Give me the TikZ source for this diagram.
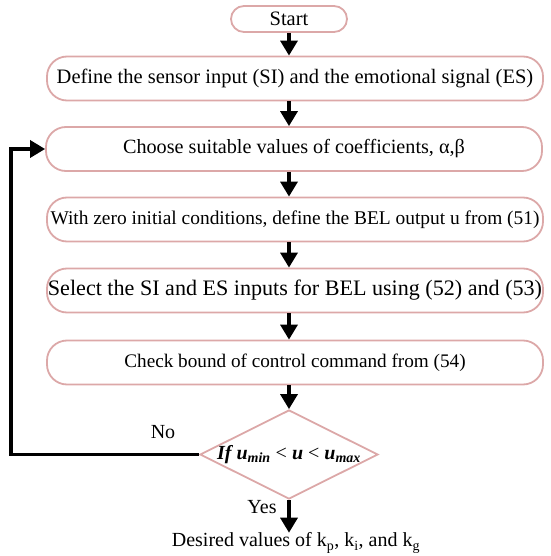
\documentclass[tikz,border=0pt]{standalone}
\usepackage{fontspec}
\setmainfont{Liberation Serif}
\usetikzlibrary{shapes.geometric,arrows.meta}
\definecolor{boxpink}{RGB}{220,168,168}
\newcommand{\fsz}[1]{\fontsize{#1}{#1}\selectfont}
\begin{document}
\begin{tikzpicture}[x=1pt,y=-1pt,
  proc/.style={draw=boxpink,line width=1.8pt,rounded corners=20pt,minimum width=496pt,minimum height=44pt,inner sep=0pt,font=\fsz{20}},
  flow/.style={line width=3.4pt,-{Triangle[width=17pt,length=15pt]}},
  lbl/.style={inner sep=0pt,font=\fsz{20}}]
\useasboundingbox (0,0) rectangle (550,556);
\node[proc,minimum width=116pt,minimum height=26pt,rounded corners=13pt,font=\fsz{20.5}] (start) at (289,19) {Start};
\node[proc,font=\fsz{20.5}] (b2) at (295,78.5) {Define the sensor input (SI) and the emotional signal (ES)};
\node[proc,font=\fsz{20.2}] (b3) at (294,149) {Choose suitable values of coefficients, α,β};
\node[proc,font=\fsz{19.4}] (b4) at (295,219.5) {With zero initial conditions, define the BEL output u from (51)};
\node[proc,font=\fsz{22.1}] (b5) at (295,290.5) {Select the SI and ES inputs for BEL using (52) and (53)};
\node[proc,font=\fsz{19.2}] (b6) at (295,362.5) {Check bound of control command from (54)};
\node[diamond,draw=boxpink,line width=1.8pt,minimum width=178pt,minimum height=89pt,inner sep=0pt] (dec) at (289,454.5) {};
\node[lbl] (dect) at (dec.center) {\bfseries\itshape If u\textsubscript{min} {\upshape\mdseries <} u {\upshape\mdseries <} u\textsubscript{max}};
\node[lbl] (fin) at (296,543) {Desired values of k\textsubscript{p}, k\textsubscript{i}, and k\textsubscript{g}};
\node[lbl] (no) at (163,432) {No};
\node[lbl] (yes) at (262,507) {Yes};
\coordinate (lc) at (11,149);
\draw[flow] (start.south) -- (start.south |- b2.north);
\draw[flow] (start.south |- b2.south) -- (start.south |- b3.north);
\draw[flow] (start.south |- b3.south) -- (start.south |- b4.north);
\draw[flow] (start.south |- b4.south) -- (start.south |- b5.north);
\draw[flow] (start.south |- b5.south) -- (start.south |- b6.north);
\draw[flow] (start.south |- b6.south) -- (dec.north);
\draw[flow] (dec.south) -- (dec.south |- fin.north);
\draw[flow] (dec.west) -| (lc) -- (b3.west);
\end{tikzpicture}
\end{document}
